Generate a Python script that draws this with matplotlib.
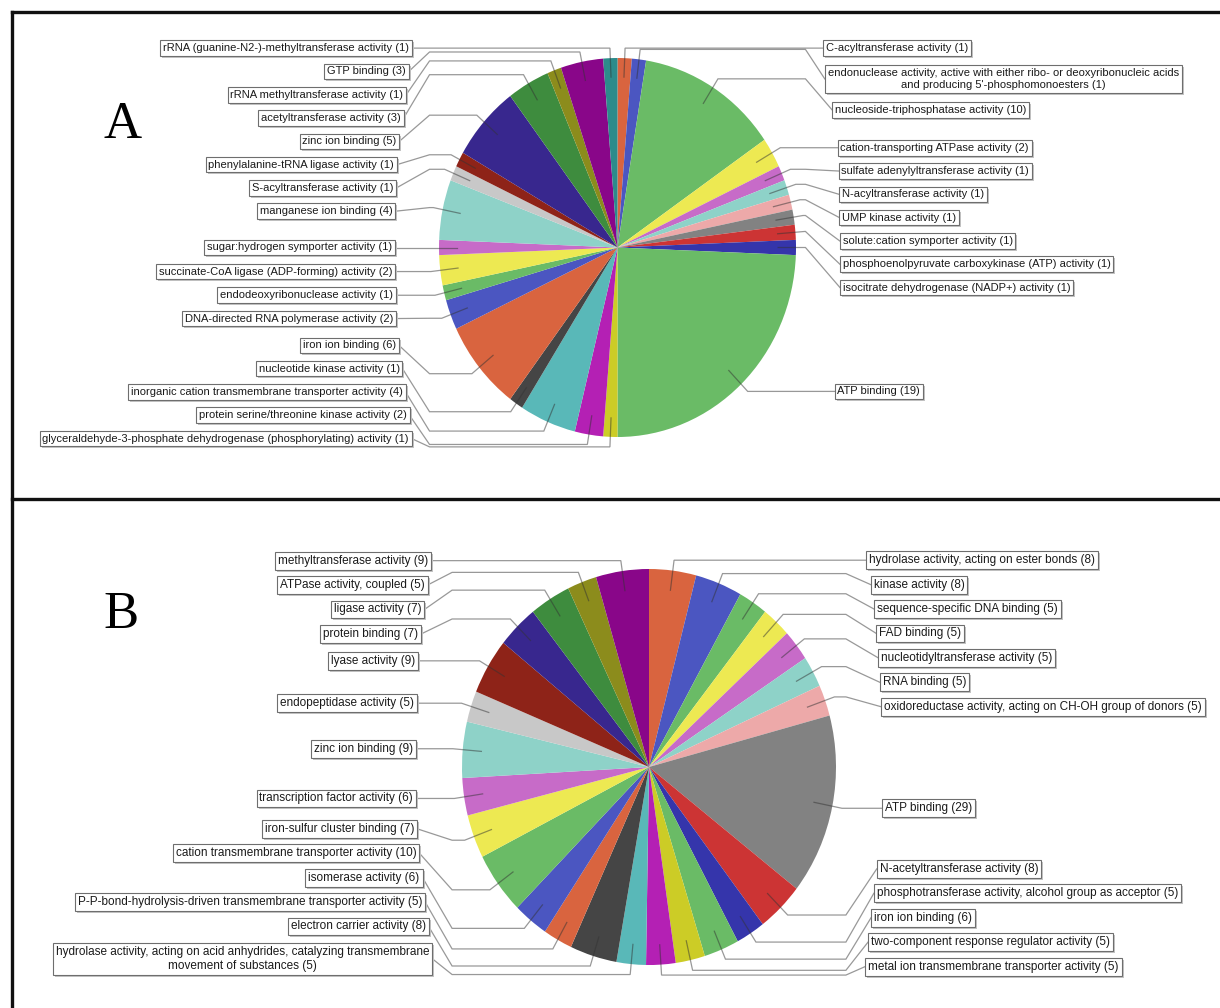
import numpy as np
import matplotlib
matplotlib.use("Agg")
import matplotlib.pyplot as plt
from matplotlib import transforms

# ---------------- data ----------------
a_categories = [
    "C-acyltransferase activity",
    "endonuclease activity, active with either ribo- or deoxyribonucleic acids\nand producing 5'-phosphomonoesters",
    "nucleoside-triphosphatase activity",
    "cation-transporting ATPase activity",
    "sulfate adenylyltransferase activity",
    "N-acyltransferase activity",
    "UMP kinase activity",
    "solute:cation symporter activity",
    "phosphoenolpyruvate carboxykinase (ATP) activity",
    "isocitrate dehydrogenase (NADP+) activity",
    "ATP binding",
    "glyceraldehyde-3-phosphate dehydrogenase (phosphorylating) activity",
    "protein serine/threonine kinase activity",
    "inorganic cation transmembrane transporter activity",
    "nucleotide kinase activity",
    "iron ion binding",
    "DNA-directed RNA polymerase activity",
    "endodeoxyribonuclease activity",
    "succinate-CoA ligase (ADP-forming) activity",
    "sugar:hydrogen symporter activity",
    "manganese ion binding",
    "S-acyltransferase activity",
    "phenylalanine-tRNA ligase activity",
    "zinc ion binding",
    "acetyltransferase activity",
    "rRNA methyltransferase activity",
    "GTP binding",
    "rRNA (guanine-N2-)-methyltransferase activity",
]
a_values = [1, 1, 10, 2, 1, 1, 1, 1, 1, 1, 19, 1, 2, 4, 1, 6, 2, 1, 2, 1, 4, 1, 1, 5, 3, 1, 3, 1]

b_categories = [
    "hydrolase activity, acting on ester bonds",
    "kinase activity",
    "sequence-specific DNA binding",
    "FAD binding",
    "nucleotidyltransferase activity",
    "RNA binding",
    "oxidoreductase activity, acting on CH-OH group of donors",
    "ATP binding",
    "N-acetyltransferase activity",
    "phosphotransferase activity, alcohol group as acceptor",
    "iron ion binding",
    "two-component response regulator activity",
    "metal ion transmembrane transporter activity",
    "hydrolase activity, acting on acid anhydrides, catalyzing transmembrane\nmovement of substances",
    "electron carrier activity",
    "P-P-bond-hydrolysis-driven transmembrane transporter activity",
    "isomerase activity",
    "cation transmembrane transporter activity",
    "iron-sulfur cluster binding",
    "transcription factor activity",
    "zinc ion binding",
    "endopeptidase activity",
    "lyase activity",
    "protein binding",
    "ligase activity",
    "ATPase activity, coupled",
    "methyltransferase activity",
]
b_values = [8, 8, 5, 5, 5, 5, 5, 29, 8, 5, 6, 5, 5, 5, 8, 5, 6, 10, 7, 6, 9, 5, 9, 7, 7, 5, 9]

# ---------------- style ----------------
palette = ['#D9643F', '#4B56C1', '#6ABB66', '#EDE952', '#C76BC8', '#8ED2C8', '#EDA9A9',
           '#828282', '#CC3434', '#3535AB', '#6ABB66', '#CCCC26', '#B420B4', '#59B8B8',
           '#454545', '#D9643F', '#4B56C1', '#6ABB66', '#EDE952', '#C76BC8', '#8ED2C8',
           '#C8C8C8', '#8E2318', '#38278E', '#3E8C3E', '#8C8C1C', '#890689', '#2C8B8B']

W, H = 1220, 1008
fig = plt.figure(figsize=(W / 100, H / 100), dpi=100)
fig.patch.set_facecolor('white')

panels = [
    dict(cats=a_categories, vals=a_values, cx=617.5, cy=247.5, rx=178.5, ry=189.5,
         s=1.0, letter='A', lx=123, ly=125),
    dict(cats=b_categories, vals=b_values, cx=649.0, cy=767.0, rx=187.0, ry=198.0,
         s=1.048, letter='B', lx=121, ly=615),
]

# pies (drawn first so that the leader lines sit on top)
for p in panels:
    cx, cy, rx, ry = p['cx'], p['cy'], p['rx'], p['ry']
    ax = fig.add_axes([(cx - rx) / W, 1 - (cy + ry) / H, 2 * rx / W, 2 * ry / H])
    ax.pie(p['vals'], colors=palette[:len(p['vals'])], startangle=90, counterclock=False,
           radius=1, wedgeprops=dict(linewidth=0))
    ax.set_aspect('auto')
    ax.set_xlim(-1, 1)
    ax.set_ylim(-1, 1)
    ax.axis('off')

ov = fig.add_axes([0, 0, 1, 1])
ov.set_xlim(0, W)
ov.set_ylim(H, 0)
ov.axis('off')

LINK_F = 1.053
DEPTH = 0.9
shadow_tr = transforms.offset_copy(ov.transData, fig=fig, x=2, y=-2, units='dots')

for p in panels:
    cx, cy, rx, ry, s = p['cx'], p['cy'], p['rx'], p['ry'], p['s']
    vals = np.asarray(p['vals'], dtype=float)
    tot = vals.sum()
    mid = np.cumsum(vals) - vals / 2
    theta = 2 * np.pi * mid / tot
    sx, cs = np.sin(theta), np.cos(theta)
    lrx, lry = rx * LINK_F, ry * LINK_F
    base_y = cy - cs * lry
    labels = [f"{c} ({int(v)})" for c, v in zip(p['cats'], p['vals'])]
    nl = np.array([lab.count('\n') + 1 for lab in labels])
    hts = (17 + 15 * (nl - 1)) * s
    gap = 6.3 * s
    lgap = 34.5 * s
    fs = 8.05 * s
    pad = 0.25
    pad_px = pad * fs * 100 / 72
    alloc = np.zeros(len(vals))
    for right in (True, False):
        idx = [i for i in range(len(vals)) if (sx[i] > 0) == right]
        idx = sorted(idx, key=lambda i: base_y[i])
        ys = [base_y[i] for i in idx]
        hh = [hts[i] for i in idx]
        for k in range(1, len(ys)):
            ys[k] = max(ys[k], ys[k - 1] + (hh[k - 1] + hh[k]) / 2 + gap)
        bottom = cy + lry
        if ys[-1] + hh[-1] / 2 > bottom:
            ys[-1] = bottom - hh[-1] / 2
            for k in range(len(ys) - 2, -1, -1):
                ys[k] = min(ys[k], ys[k + 1] - (hh[k] + hh[k + 1]) / 2 - gap)
        for i, y in zip(idx, ys):
            alloc[i] = y

    for i, lab in enumerate(labels):
        right = sx[i] > 0
        lx_, ly_ = cx + sx[i] * rx * DEPTH, cy - cs[i] * ry * DEPTH
        ex, ey = cx + sx[i] * lrx, cy - cs[i] * lry
        anchor_x = cx + lrx if right else cx - lrx
        g = lgap / 2 * (1 + abs(sx[i]))
        tx = anchor_x + g if right else anchor_x - g
        ty = alloc[i]
        ov.plot([lx_, ex, anchor_x, tx], [ly_, ey, ey, ty], color='#333333', alpha=0.5,
                lw=0.9, solid_joinstyle='miter', zorder=3)
        txt_x = tx + pad_px if right else tx - pad_px
        ha = 'left' if right else 'right'
        ov.text(txt_x, ty, lab, ha=ha, va='center', fontsize=fs, family='Liberation Sans',
                multialignment='center', color='none', transform=shadow_tr, zorder=4,
                bbox=dict(boxstyle=f'square,pad={pad}', fc='#c4c4c4', ec='none'))
        ov.text(txt_x, ty, lab, ha=ha, va='center', fontsize=fs, family='Liberation Sans',
                multialignment='center', color='#1a1a1a', zorder=5,
                bbox=dict(boxstyle=f'square,pad={pad}', fc='white', ec='#6e6e6e', lw=0.8))

    ov.text(p['lx'], p['ly'], p['letter'], ha='center', va='center', fontsize=38,
            family='Liberation Serif', color='black', zorder=5)

# panel frame
frame_kw = dict(color='#111111', lw=2.4, solid_capstyle='projecting', zorder=6)
ov.plot([12, 12], [12, H + 5], **frame_kw)
ov.plot([12, W + 5], [12, 12], **frame_kw)
ov.plot([12, W + 5], [499, 499], **frame_kw)

fig.savefig('out.png', dpi=100, facecolor='white')
